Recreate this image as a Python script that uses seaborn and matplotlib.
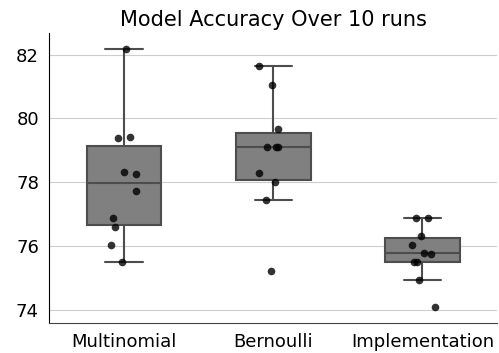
import numpy as np
import pandas as pd
import matplotlib
matplotlib.use("Agg")
import matplotlib.pyplot as plt
import seaborn as sns

models = ["Multinomial", "Bernoulli", "Implementation"]

multinomial = [82.17, 79.41, 79.40, 78.33, 78.27, 77.72, 76.88, 76.61, 76.05, 75.50]
bernoulli = [81.63, 81.06, 79.68, 79.12, 79.12, 79.10, 78.28, 78.00, 77.45, 75.22]
implementation = [76.88, 76.88, 76.32, 76.04, 75.78, 75.77, 75.50, 75.50, 74.94, 74.10]

df = pd.DataFrame({
    "model": np.repeat(models, 10),
    "accuracy": multinomial + bernoulli + implementation,
})

sns.set_style("whitegrid")
plt.rcParams["font.family"] = ["DejaVu Sans"]

fig, ax = plt.subplots(figsize=(4.99, 3.53), dpi=100)

sns.boxplot(x="model", y="accuracy", data=df, color="#808080", width=0.5,
            showfliers=False, linewidth=1.5, ax=ax)
np.random.seed(3)
sns.stripplot(x="model", y="accuracy", data=df, color="black", alpha=0.8,
              size=5.5, jitter=0.1, ax=ax)

ax.set_title("Model Accuracy Over 10 runs", fontsize=15, color="black", pad=5)
ax.set_xlabel("")
ax.set_ylabel("")
ax.tick_params(axis="both", labelsize=13, labelcolor="black", length=4,
               width=1, color="#333333")
ax.grid(axis="x", visible=False)
ax.set_yticks([74, 76, 78, 80, 82])
ax.set_ylim(73.6, 82.67)
sns.despine(ax=ax)
ax.spines["left"].set_color("black")
ax.spines["bottom"].set_color("#444444")

fig.subplots_adjust(left=0.099, right=0.996, top=0.906, bottom=0.085)
fig.savefig("out.png")
